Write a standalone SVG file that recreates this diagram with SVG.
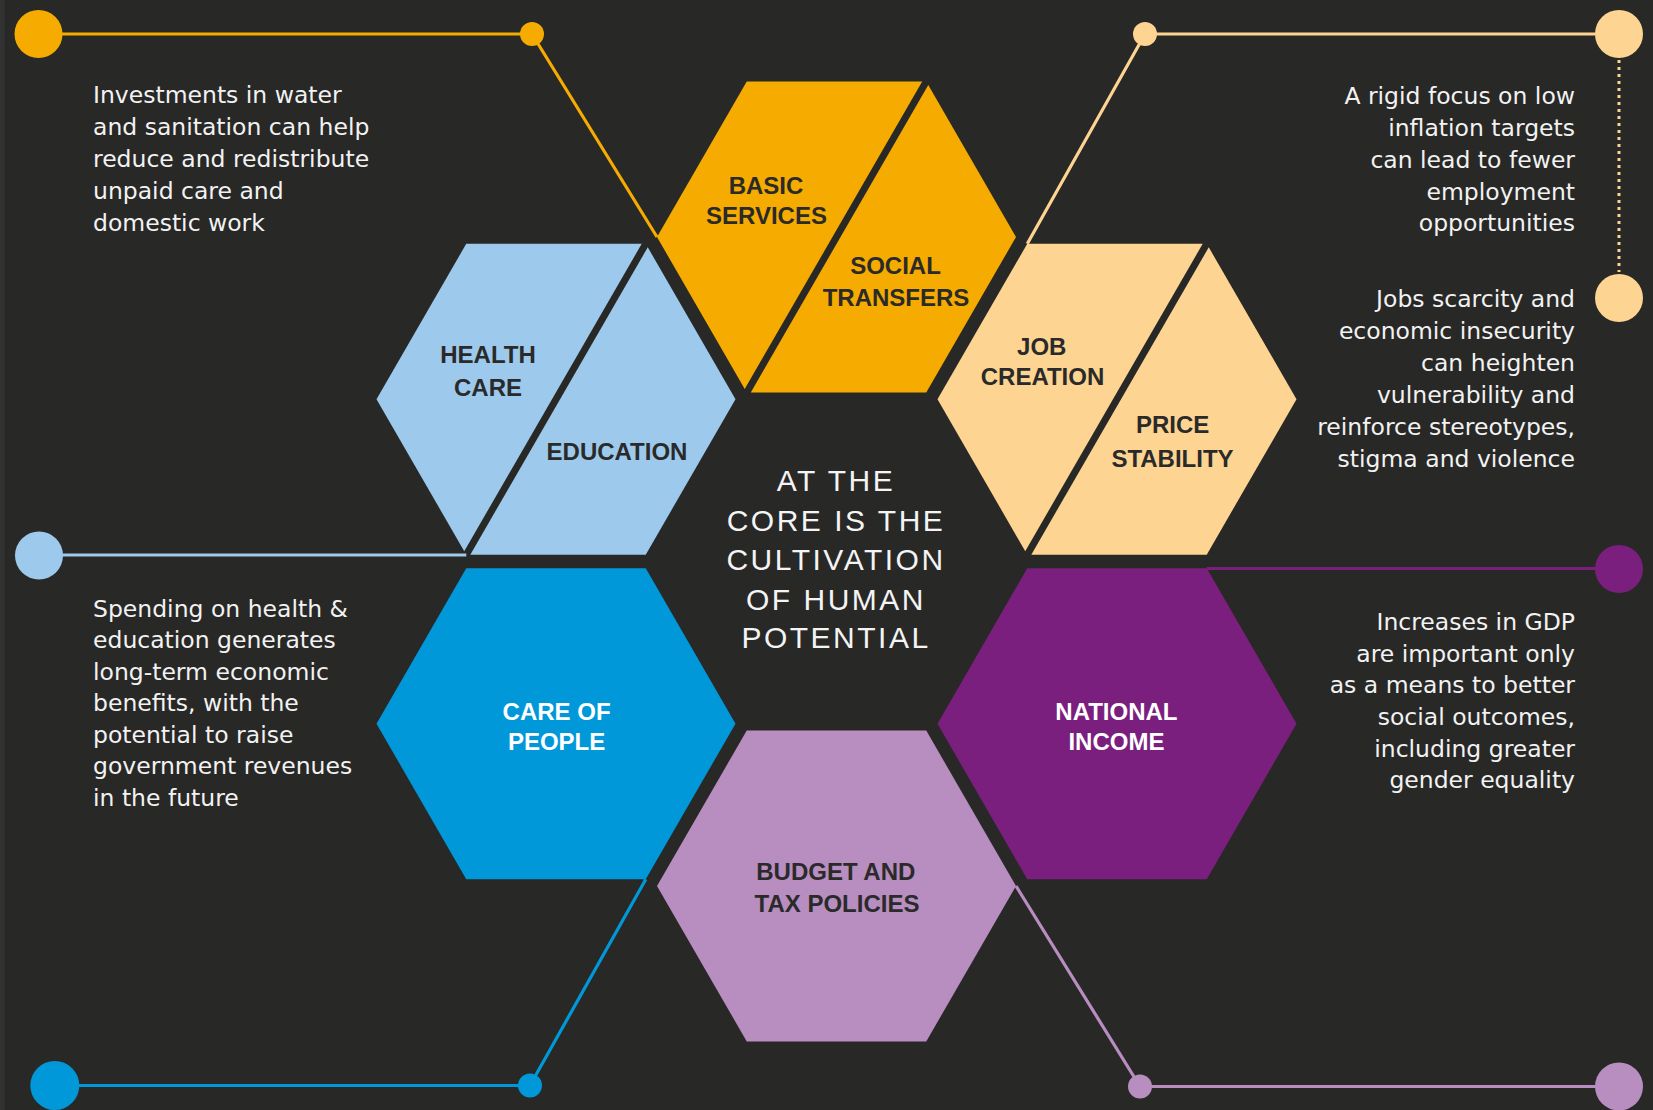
<svg xmlns="http://www.w3.org/2000/svg" width="1653" height="1110" viewBox="0 0 1653 1110">
  <style>
    .label { font-family: "Liberation Sans", Arial, sans-serif; font-weight: bold; font-size: 24px; text-anchor: middle; }
    .dark { fill: #2a2a2a; }
    .light { fill: #ffffff; }
    .core { font-family: "Liberation Sans", Arial, sans-serif; font-size: 30px; letter-spacing: 2.5px; fill: #f4f4f4; text-anchor: middle; }
    .note { font-family: "DejaVu Sans", Verdana, sans-serif; font-size: 23.5px; fill: #f2f2f2; }
    .right { text-anchor: end; }
    .wire { fill: none; stroke-width: 3.2; }
  </style>
  <defs>
    <!-- hexagon shapes centred on the origin (R = 179.5, flat top); halves leave a 7px diagonal gap -->
    <polygon id="hexFull" points="-179.5,0 -89.75,-155.45 89.75,-155.45 179.5,0 89.75,155.45 -89.75,155.45"/>
    <polygon id="hexLeft" points="-179.5,0 -89.75,-155.45 85.71,-155.45 -91.77,151.95"/>
    <polygon id="hexRight" points="179.5,0 89.75,155.45 -85.71,155.45 91.77,-151.95"/>
  </defs>

  <!-- background -->
  <rect x="0" y="0" width="1653" height="1110" fill="#282827"/>
  <rect x="0" y="0" width="4.5" height="1110" fill="#323232"/>

  <!-- connectors -->
  <g id="connectors">
    <!-- basic services / social transfers -->
    <g stroke="#F6AB00" fill="#F6AB00">
      <polyline class="wire" points="38.5,34 532,34 657,237"/>
      <circle cx="38.5" cy="34" r="24" stroke="none"/>
      <circle cx="532" cy="34" r="12" stroke="none"/>
    </g>
    <!-- job creation / price stability -->
    <g stroke="#FDD491" fill="#FDD491">
      <polyline class="wire" points="1027.3,243.8 1145,34 1619,34"/>
      <line x1="1619" y1="60" x2="1619" y2="272" stroke-width="3" stroke-dasharray="3 4"/>
      <circle cx="1145" cy="34" r="12" stroke="none"/>
      <circle cx="1619" cy="34" r="24" stroke="none"/>
      <circle cx="1619" cy="298" r="24" stroke="none"/>
    </g>
    <!-- health care / education -->
    <g stroke="#9CC9EC" fill="#9CC9EC">
      <line class="wire" x1="39" y1="555" x2="466.3" y2="555"/>
      <circle cx="39" cy="555.5" r="24" stroke="none"/>
    </g>
    <!-- national income -->
    <g stroke="#7A1F7D" fill="#7A1F7D">
      <line class="wire" x1="1206.8" y1="568.5" x2="1619" y2="568.5"/>
      <circle cx="1619" cy="569" r="24" stroke="none"/>
    </g>
    <!-- care of people -->
    <g stroke="#0098D9" fill="#0098D9">
      <polyline class="wire" points="54.8,1085.5 530,1085.5 645.8,879.2"/>
      <circle cx="54.8" cy="1085.5" r="24.5" stroke="none"/>
      <circle cx="530" cy="1085.5" r="12" stroke="none"/>
    </g>
    <!-- budget and tax policies -->
    <g stroke="#B88DC0" fill="#B88DC0">
      <polyline class="wire" points="1016,886 1140,1086.5 1619,1086.5"/>
      <circle cx="1140" cy="1086.5" r="12" stroke="none"/>
      <circle cx="1619" cy="1086.5" r="24" stroke="none"/>
    </g>
  </g>

  <!-- top: basic services / social transfers -->
  <g id="hex-services" transform="translate(836.5,237)">
    <use href="#hexLeft" fill="#F6AB00"/>
    <use href="#hexRight" fill="#F6AB00"/>
    <text class="label dark" x="-70.5" y="-43">BASIC</text>
    <text class="label dark" x="-70" y="-13">SERVICES</text>
    <text class="label dark" x="59" y="37">SOCIAL</text>
    <text class="label dark" x="59.5" y="69">TRANSFERS</text>
  </g>

  <!-- upper left: health care / education -->
  <g id="hex-health" transform="translate(556,399.25)">
    <use href="#hexLeft" fill="#9CC9EC"/>
    <use href="#hexRight" fill="#9CC9EC"/>
    <text class="label dark" x="-68" y="-36">HEALTH</text>
    <text class="label dark" x="-68" y="-3.5">CARE</text>
    <text class="label dark" x="61" y="61">EDUCATION</text>
  </g>

  <!-- upper right: job creation / price stability -->
  <g id="hex-jobs" transform="translate(1117,399.25)">
    <use href="#hexLeft" fill="#FDD491"/>
    <use href="#hexRight" fill="#FDD491"/>
    <text class="label dark" x="-75.3" y="-44">JOB</text>
    <text class="label dark" x="-74.5" y="-14">CREATION</text>
    <text class="label dark" x="55.7" y="34">PRICE</text>
    <text class="label dark" x="55.5" y="67.5">STABILITY</text>
  </g>

  <!-- lower left: care of people -->
  <g id="hex-care" transform="translate(556,723.75)">
    <use href="#hexFull" fill="#0098D9"/>
    <text class="label light" x="0.6" y="-3.75">CARE OF</text>
    <text class="label light" x="0.6" y="26">PEOPLE</text>
  </g>

  <!-- lower right: national income -->
  <g id="hex-income" transform="translate(1117,723.75)">
    <use href="#hexFull" fill="#7A1F7D"/>
    <text class="label light" x="-0.6" y="-3.75">NATIONAL</text>
    <text class="label light" x="-0.6" y="26">INCOME</text>
  </g>

  <!-- bottom: budget and tax policies -->
  <g id="hex-budget" transform="translate(836.5,886)">
    <use href="#hexFull" fill="#B88DC0"/>
    <text class="label dark" x="-0.7" y="-6">BUDGET AND</text>
    <text class="label dark" x="0.5" y="26.3">TAX POLICIES</text>
  </g>

  <!-- centre statement -->
  <g id="core">
    <text class="core" x="836" y="491">AT THE</text>
    <text class="core" x="836" y="530.5">CORE IS THE</text>
    <text class="core" x="836" y="570">CULTIVATION</text>
    <text class="core" x="836" y="609.5">OF HUMAN</text>
    <text class="core" x="836" y="648">POTENTIAL</text>
  </g>

  <!-- notes -->
  <g id="note-water" class="note">
    <text x="93" y="103">Investments in water</text>
    <text x="93" y="135">and sanitation can help</text>
    <text x="93" y="167">reduce and redistribute</text>
    <text x="93" y="199">unpaid care and</text>
    <text x="93" y="231">domestic work</text>
  </g>
  <g id="note-inflation" class="note right">
    <text x="1575" y="104">A rigid focus on low</text>
    <text x="1575" y="136">inflation targets</text>
    <text x="1575" y="168">can lead to fewer</text>
    <text x="1575" y="199.5">employment</text>
    <text x="1575" y="231">opportunities</text>
  </g>
  <g id="note-jobs" class="note right">
    <text x="1575" y="307">Jobs scarcity and</text>
    <text x="1575" y="339">economic insecurity</text>
    <text x="1575" y="371">can heighten</text>
    <text x="1575" y="403">vulnerability and</text>
    <text x="1575" y="435">reinforce stereotypes,</text>
    <text x="1575" y="467">stigma and violence</text>
  </g>
  <g id="note-spending" class="note">
    <text x="93" y="616.5">Spending on health &amp;</text>
    <text x="93" y="648">education generates</text>
    <text x="93" y="679.5">long-term economic</text>
    <text x="93" y="711">benefits, with the</text>
    <text x="93" y="742.5">potential to raise</text>
    <text x="93" y="774">government revenues</text>
    <text x="93" y="805.5">in the future</text>
  </g>
  <g id="note-gdp" class="note right">
    <text x="1575" y="630">Increases in GDP</text>
    <text x="1575" y="661.5">are important only</text>
    <text x="1575" y="693">as a means to better</text>
    <text x="1575" y="724.5">social outcomes,</text>
    <text x="1575" y="756.5">including greater</text>
    <text x="1575" y="788">gender equality</text>
  </g>
</svg>
